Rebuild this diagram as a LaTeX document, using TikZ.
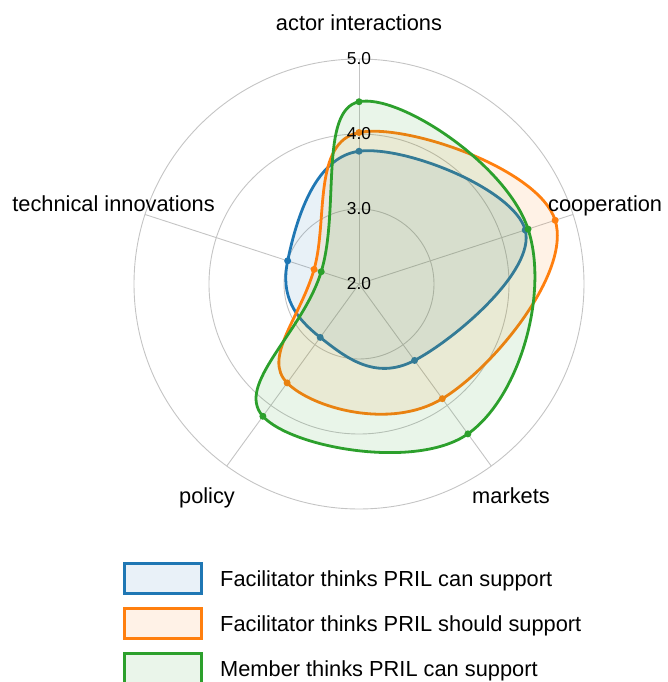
\documentclass[tikz,border=0pt]{standalone}
\usepackage{fontspec}
\setmainfont{Liberation Sans}
\usepackage{tikz}
\definecolor{tabblue}{HTML}{1F77B4}
\definecolor{taborange}{HTML}{FF7F0E}
\definecolor{tabgreen}{HTML}{2CA02C}
\definecolor{gridgray}{HTML}{C4C4C4}
\tikzstyle{gridline} = [draw=gridgray, line width=0.9pt]
\tikzstyle{axislabel} = [font=\fontsize{21.8}{26}\selectfont, inner sep=0pt, anchor=base]
\tikzstyle{ticklabel} = [font=\fontsize{17.3}{20}\selectfont, inner sep=0pt]
\tikzstyle{series} = [line width=2.8pt, smooth cycle, tension=0.7]
\tikzstyle{legendbox} = [rectangle, line width=2.8pt, minimum width=77pt, minimum height=30pt, inner sep=0pt]

\begin{document}
\begin{tikzpicture}[x=1pt, y=1pt]
    \useasboundingbox (-359,-398) rectangle (308,284);
    % grid
    \foreach \v in {3,4,5}
        \draw[gridline] (0,0) circle[radius={(\v-2)*75pt}];
    \foreach \a in {90,18,-54,-126,162}
        \draw[gridline] (0,0) -- (\a:225);

    % series: actor, cooperation, markets, policy, technical
    \foreach \c/\va/\vb/\vc/\vd/\ve in {tabblue/3.77/4.33/3.26/2.88/3.00,
            taborange/4.02/4.75/3.89/3.63/2.63,
            tabgreen/4.43/4.37/4.47/4.18/2.53}{
        \draw[series, draw=\c, fill=\c, fill opacity=0.1] plot coordinates {
            (90:{(\va-2)*75}) (18:{(\vb-2)*75}) (-54:{(\vc-2)*75})
            (-126:{(\vd-2)*75}) (162:{(\ve-2)*75})};
        \foreach \a/\v in {90/\va, 18/\vb, -54/\vc, -126/\vd, 162/\ve}
            \fill[\c] (\a:{(\v-2)*75}) circle[radius=3.5pt];
    }

    \foreach \v in {2,...,5}
        \node[ticklabel] (tick\v) at (0,{(\v-2)*75}) {\v.0};

    \node[axislabel] (actor) at (0,253) {actor interactions};
    \node[axislabel, anchor=base west] (coop) at (189,72) {cooperation};
    \node[axislabel, anchor=base east] (tech) at (-144,72) {technical innovations};
    \node[axislabel] (policy) at (-152,-219) {policy};
    \node[axislabel] (markets) at (152,-219) {markets};

    % legend
    \node[legendbox, draw=tabblue, fill=tabblue!10] (legblue) at (-196,-294.5) {};
    \node[legendbox, draw=taborange, fill=taborange!10] (legorange) at (-196,-339.5) {};
    \node[legendbox, draw=tabgreen, fill=tabgreen!10] (leggreen) at (-196,-384.5) {};
    \node[axislabel, anchor=base west] (txtblue) at (-139,-302) {Facilitator thinks PRIL can support};
    \node[axislabel, anchor=base west] (txtorange) at (-139,-347) {Facilitator thinks PRIL should support};
    \node[axislabel, anchor=base west] (txtgreen) at (-139,-392) {Member thinks PRIL can support};
\end{tikzpicture}
\end{document}
